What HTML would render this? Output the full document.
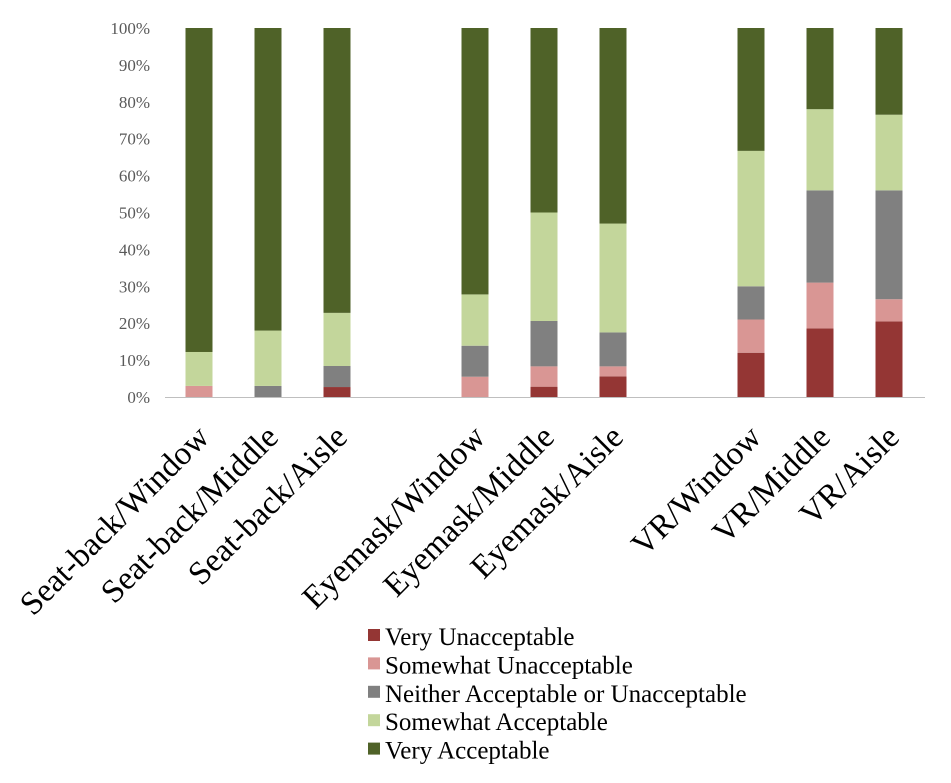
<!DOCTYPE html>
<html><head><meta charset="utf-8"><style>
body{margin:0;background:#fff;}
svg{display:block;font-family:"Liberation Serif",serif;}
</style></head><body>
<svg id="chart" width="951" height="783" viewBox="0 0 951 783">
<g id="grid"></g>
<g id="bars"></g>
<g id="xlabels"></g>
<g id="legend"></g>
</svg>
<script>
const categories = ["Seat-back/Window","Seat-back/Middle","Seat-back/Aisle","Eyemask/Window","Eyemask/Middle","Eyemask/Aisle","VR/Window","VR/Middle","VR/Aisle"];
const seriesNames = ["Very Unacceptable","Somewhat Unacceptable","Neither Acceptable or Unacceptable","Somewhat Acceptable","Very Acceptable"];
const veryUnacceptable = [0,0,2.7,0,2.8,5.6,12,18.6,20.5];
const somewhatUnacceptable = [3,0,0,5.5,5.5,2.7,9,12.4,6];
const neither = [0,3,5.7,8.4,12.3,9.2,9,25,29.5];
const somewhatAcceptable = [9.2,15,14.4,13.9,29.4,29.5,36.7,22,20.5];
const veryAcceptable = [87.8,82,77.2,72.2,50,53,33.3,22,23.5];
const yTicks = [0,10,20,30,40,50,60,70,80,90,100];
const colors = ["#943634","#d99694","#808080","#c3d69b","#4f6228"];
const series = [veryUnacceptable,somewhatUnacceptable,neither,somewhatAcceptable,veryAcceptable];
const NS="http://www.w3.org/2000/svg";
const y0=397,y100=28;
function y(v){return y0-(y0-y100)*v/100;}
const centers=[199,268,337,475,544,613,751,820,889];
function x(i){return centers[i];}
const bw=27;
function mk(tag,attrs,parent){const e=document.createElementNS(NS,tag);for(const k in attrs)e.setAttribute(k,attrs[k]);parent.appendChild(e);return e;}
const grid=document.getElementById('grid');
yTicks.forEach(t=>{
  const tx=mk('text',{x:150,y:y(t)+6,'text-anchor':'end','font-size':17,fill:'#595959'},grid);
  tx.textContent=t+'%';
  
  
});
const ax=mk('line',{x1:165,x2:925,y1:y0+0.5,y2:y0+0.5,stroke:'#bfbfbf','stroke-width':1},grid);


const bars=document.getElementById('bars');
categories.forEach((c,i)=>{
  let cum=0;
  series.forEach((s,j)=>{
    const v=s[i];
    if(v>0){
      const r=mk('rect',{x:x(i)-bw/2,y:y(cum+v),width:bw,height:y(cum)-y(cum+v),fill:colors[j]},bars);
      
      
    }
    cum+=v;
  });
});
const xl=document.getElementById('xlabels');
categories.forEach((c,i)=>{
  const t=mk('text',{x:0,y:0,'text-anchor':'end','font-size':33,fill:'#000',transform:`translate(${x(i)+12},${y0+42}) rotate(-45)`},xl);
  t.textContent=c;
  
  
});
const lg=document.getElementById('legend');
seriesNames.forEach((n,j)=>{
  const base=645+j*28.4;
  const r=mk('rect',{x:368,y:base-16,width:12,height:12,fill:colors[j]},lg);
  
  
  const t=mk('text',{x:385,y:base,'font-size':25,fill:'#000'},lg);
  t.textContent=n;
  
  
});
</script>
</body></html>
